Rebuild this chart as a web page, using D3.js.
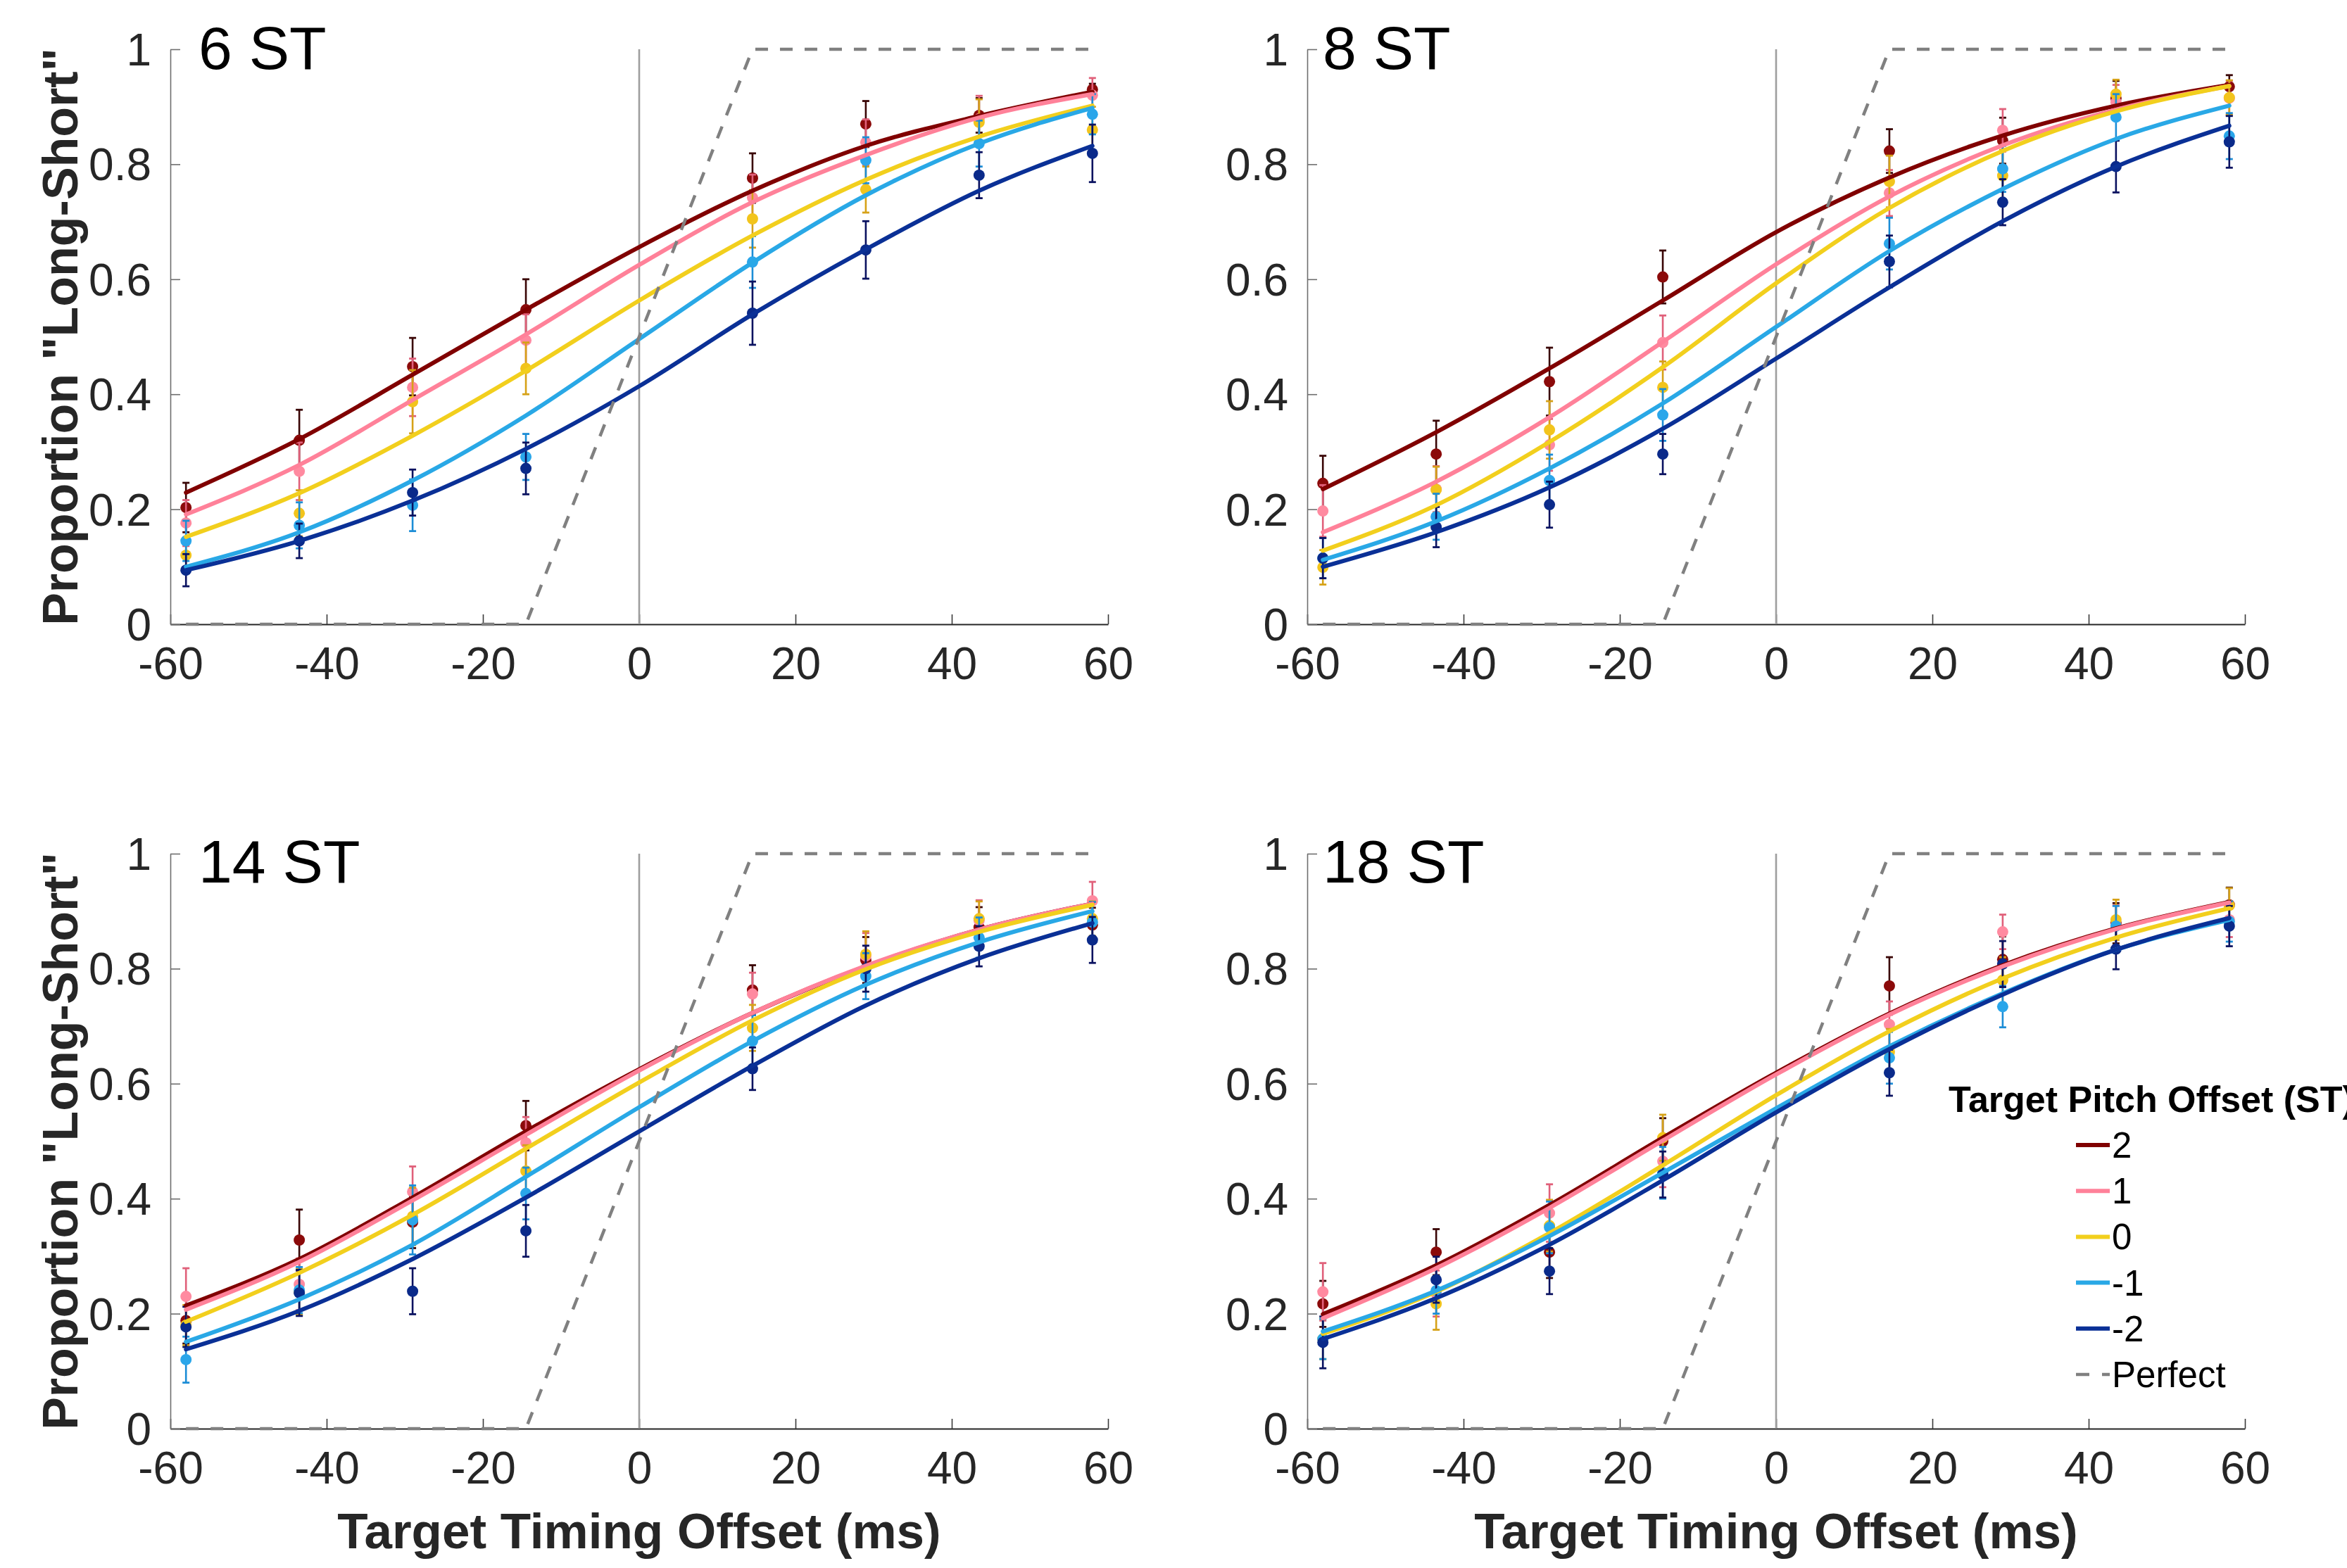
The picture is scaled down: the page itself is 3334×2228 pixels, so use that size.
<!DOCTYPE html>
<html>
<head>
<meta charset="utf-8">
<script src="https://cdn.jsdelivr.net/npm/d3@7"></script>
<style>
  html, body { margin: 0; padding: 0; background: #ffffff; }
  svg { display: block; }
  text { font-family: "Liberation Sans", Arial, Helvetica, sans-serif; }
</style>
</head>
<body>
<svg id="chart" width="3334" height="2228"></svg>
<script>
// ---- data ---------------------------------------------------------------
// target timing offsets (ms) at which responses were measured
const timingOffsets = [-58, -43.5, -29, -14.5, 14.5, 29, 43.5, 58];
// offsets at which the fitted psychometric curves are listed
const fitOffsets = [-58, -43.5, -29, -14.5, 0, 14.5, 29, 43.5, 58];
// target pitch offsets (ST), one series each
const pitchOffsets = ["2", "1", "0", "-1", "-2"];
const panelTitles = ["6 ST", "8 ST", "14 ST", "18 ST"];
const xTicks = [-60, -40, -20, 0, 20, 40, 60];
const yTicks = [0, 0.2, 0.4, 0.6, 0.8, 1];
// ideal observer reference line
const perfectX = [-58, -14.5, 14.5, 58];
const perfectY = [0, 0, 1, 1];

// 6 ST
const fit6ST = [
  [0.229, 0.322, 0.434, 0.547, 0.656, 0.754, 0.832, 0.884, 0.926],
  [0.191, 0.277, 0.390, 0.504, 0.625, 0.734, 0.816, 0.881, 0.922],
  [0.152, 0.228, 0.328, 0.441, 0.563, 0.676, 0.773, 0.848, 0.902],
  [0.100, 0.160, 0.250, 0.363, 0.496, 0.629, 0.746, 0.836, 0.898],
  [0.094, 0.145, 0.215, 0.305, 0.414, 0.539, 0.652, 0.754, 0.832]
];
const mean6ST = [
  [0.203, 0.320, 0.448, 0.547, 0.776, 0.870, 0.885, 0.930],
  [0.176, 0.266, 0.412, 0.494, 0.742, 0.838, 0.879, 0.920],
  [0.120, 0.193, 0.387, 0.445, 0.705, 0.756, 0.873, 0.860],
  [0.145, 0.172, 0.207, 0.291, 0.630, 0.807, 0.836, 0.887],
  [0.094, 0.145, 0.229, 0.271, 0.541, 0.651, 0.781, 0.819]
];
const sem6ST = [
  [0.043, 0.053, 0.050, 0.053, 0.043, 0.040, 0.030, 0.010],
  [0.040, 0.050, 0.050, 0.045, 0.040, 0.040, 0.040, 0.030],
  [0.030, 0.040, 0.055, 0.045, 0.050, 0.040, 0.040, 0.040],
  [0.035, 0.040, 0.045, 0.040, 0.045, 0.040, 0.040, 0.035],
  [0.028, 0.030, 0.040, 0.045, 0.055, 0.050, 0.040, 0.050]
];

// 8 ST
const fit8ST = [
  [0.235, 0.334, 0.445, 0.563, 0.682, 0.777, 0.850, 0.902, 0.938],
  [0.160, 0.248, 0.360, 0.491, 0.626, 0.744, 0.833, 0.895, 0.936],
  [0.128, 0.207, 0.317, 0.447, 0.593, 0.724, 0.823, 0.892, 0.936],
  [0.112, 0.179, 0.271, 0.384, 0.517, 0.649, 0.757, 0.844, 0.902],
  [0.100, 0.160, 0.238, 0.340, 0.462, 0.586, 0.701, 0.796, 0.867]
];
const mean8ST = [
  [0.245, 0.296, 0.422, 0.604, 0.823, 0.841, 0.915, 0.935],
  [0.197, 0.235, 0.312, 0.490, 0.750, 0.859, 0.908, 0.915],
  [0.099, 0.234, 0.338, 0.412, 0.770, 0.780, 0.922, 0.916],
  [0.115, 0.187, 0.250, 0.364, 0.662, 0.792, 0.882, 0.849],
  [0.115, 0.169, 0.208, 0.296, 0.631, 0.734, 0.796, 0.839]
];
const sem8ST = [
  [0.048, 0.058, 0.059, 0.046, 0.038, 0.040, 0.030, 0.020],
  [0.045, 0.040, 0.045, 0.047, 0.040, 0.037, 0.030, 0.030],
  [0.030, 0.040, 0.050, 0.045, 0.045, 0.045, 0.025, 0.030],
  [0.035, 0.040, 0.045, 0.045, 0.045, 0.040, 0.040, 0.040],
  [0.035, 0.035, 0.040, 0.035, 0.045, 0.040, 0.045, 0.045]
];

// 14 ST
const fit14ST = [
  [0.214, 0.295, 0.402, 0.517, 0.625, 0.723, 0.804, 0.868, 0.913],
  [0.207, 0.290, 0.397, 0.511, 0.623, 0.723, 0.805, 0.868, 0.913],
  [0.186, 0.271, 0.372, 0.487, 0.602, 0.710, 0.799, 0.864, 0.911],
  [0.151, 0.225, 0.320, 0.438, 0.559, 0.674, 0.772, 0.846, 0.900],
  [0.138, 0.205, 0.295, 0.402, 0.517, 0.631, 0.736, 0.818, 0.879]
];
const mean14ST = [
  [0.188, 0.328, 0.359, 0.527, 0.763, 0.815, 0.872, 0.876],
  [0.230, 0.251, 0.412, 0.497, 0.756, 0.822, 0.884, 0.918],
  [0.180, 0.238, 0.369, 0.448, 0.697, 0.825, 0.887, 0.887],
  [0.120, 0.241, 0.363, 0.409, 0.674, 0.787, 0.854, 0.881],
  [0.177, 0.236, 0.239, 0.344, 0.626, 0.800, 0.839, 0.850]
];
const sem14ST = [
  [0.040, 0.053, 0.045, 0.043, 0.043, 0.040, 0.035, 0.030],
  [0.049, 0.045, 0.044, 0.045, 0.037, 0.040, 0.035, 0.033],
  [0.035, 0.040, 0.050, 0.045, 0.040, 0.040, 0.030, 0.030],
  [0.040, 0.040, 0.060, 0.045, 0.045, 0.040, 0.035, 0.035],
  [0.035, 0.040, 0.040, 0.045, 0.037, 0.040, 0.035, 0.040]
];

// 18 ST
const fit18ST = [
  [0.199, 0.284, 0.389, 0.506, 0.619, 0.722, 0.806, 0.870, 0.916],
  [0.192, 0.279, 0.384, 0.501, 0.616, 0.720, 0.804, 0.869, 0.915],
  [0.165, 0.238, 0.340, 0.458, 0.580, 0.691, 0.783, 0.854, 0.905],
  [0.169, 0.240, 0.335, 0.445, 0.557, 0.665, 0.757, 0.833, 0.885],
  [0.156, 0.227, 0.320, 0.432, 0.550, 0.660, 0.755, 0.833, 0.888]
];
const mean18ST = [
  [0.217, 0.307, 0.307, 0.500, 0.770, 0.816, 0.879, 0.911],
  [0.238, 0.235, 0.375, 0.465, 0.703, 0.864, 0.875, 0.885],
  [0.156, 0.217, 0.353, 0.506, 0.655, 0.780, 0.885, 0.910],
  [0.156, 0.240, 0.350, 0.445, 0.645, 0.734, 0.874, 0.882],
  [0.150, 0.259, 0.274, 0.442, 0.619, 0.808, 0.834, 0.874]
];
const sem18ST = [
  [0.040, 0.040, 0.045, 0.040, 0.050, 0.040, 0.035, 0.030],
  [0.050, 0.040, 0.050, 0.045, 0.040, 0.030, 0.035, 0.030],
  [0.035, 0.045, 0.045, 0.040, 0.040, 0.040, 0.035, 0.030],
  [0.035, 0.040, 0.045, 0.045, 0.045, 0.036, 0.035, 0.035],
  [0.045, 0.040, 0.040, 0.040, 0.040, 0.040, 0.035, 0.035]
];

// ---- styling ------------------------------------------------------------
const curveColors  = ["#800000", "#ff8199", "#f2cf1d", "#29a8e6", "#0a3096"];
const markerColors = ["#8b0a0a", "#ff8aa0", "#f2c41c", "#2aa6ea", "#0a2a8a"];
const barColors    = ["#3a0606", "#e0607a", "#d6a218", "#1c8dd6", "#0a1260"];
const axisText = "#262626";

const svg = d3.select("#chart");
svg.append("rect").attr("width", 3334).attr("height", 2228).attr("fill", "#ffffff");

const plotW = 1332, plotH = 817;
const panels = [
  { title: panelTitles[0], fit: fit6ST,  mean: mean6ST,  sem: sem6ST,  left: 242,  top: 70,   tdx: 40, tdy: 28, ylab: true,  xlab: false },
  { title: panelTitles[1], fit: fit8ST,  mean: mean8ST,  sem: sem8ST,  left: 1857, top: 70,   tdx: 22, tdy: 28, ylab: false, xlab: false },
  { title: panelTitles[2], fit: fit14ST, mean: mean14ST, sem: sem14ST, left: 242,  top: 1213, tdx: 40, tdy: 41, ylab: true,  xlab: true },
  { title: panelTitles[3], fit: fit18ST, mean: mean18ST, sem: sem18ST, left: 1857, top: 1213, tdx: 22, tdy: 41, ylab: false, xlab: true }
];

const x = d3.scaleLinear().domain([-60, 60]).range([0, plotW]);
const y = d3.scaleLinear().domain([0, 1]).range([plotH, 0]);

const fitLine = d3.line()
  .x((d, i) => x(fitOffsets[i]))
  .y(d => y(d))
  .curve(d3.curveMonotoneX);

const perfectLine = d3.line()
  .x((d, i) => x(perfectX[i]))
  .y(d => y(d));

panels.forEach(p => {
  const g = svg.append("g").attr("transform", `translate(${p.left},${p.top})`);

  // x axis, ticks pointing into the plot
  const xAxis = g.append("g")
    .attr("transform", `translate(0,${plotH})`)
    .call(d3.axisBottom(x).tickValues(xTicks).tickSizeInner(-14).tickSizeOuter(0)
      .tickPadding(33).tickFormat(d => String(d)));
  xAxis.select(".domain").attr("stroke", "#262626").attr("stroke-width", 1.8);
  xAxis.selectAll(".tick line").attr("stroke", "#3a3a3a").attr("stroke-width", 1.6);
  xAxis.selectAll(".tick text")
    .attr("fill", axisText).attr("font-size", 64).attr("dy", "0.71em");

  // y axis
  const yAxis = g.append("g")
    .call(d3.axisLeft(y).tickValues(yTicks).tickSizeInner(-14).tickSizeOuter(0)
      .tickPadding(27).tickFormat(d => d3.format("~g")(d)));
  yAxis.select(".domain").attr("stroke", "#6e6e6e").attr("stroke-width", 1.6);
  yAxis.selectAll(".tick line").attr("stroke", "#6e6e6e").attr("stroke-width", 1.6);
  yAxis.selectAll(".tick text")
    .attr("fill", axisText).attr("font-size", 64).attr("dy", "0.35em");

  // zero timing reference
  g.append("line")
    .attr("x1", x(0)).attr("x2", x(0))
    .attr("y1", y(0)).attr("y2", y(1))
    .attr("stroke", "#9e9e9e").attr("stroke-width", 2.6);

  // error bars and mean markers
  p.mean.forEach((series, s) => {
    const sg = g.append("g");
    series.forEach((m, i) => {
      const cx = x(timingOffsets[i]);
      const lo = y(m - p.sem[s][i]), hi = y(m + p.sem[s][i]);
      sg.append("line").attr("x1", cx).attr("x2", cx).attr("y1", lo).attr("y2", hi)
        .attr("stroke", barColors[s]).attr("stroke-width", 2.6);
      [lo, hi].forEach(yy => sg.append("line")
        .attr("x1", cx - 5).attr("x2", cx + 5).attr("y1", yy).attr("y2", yy)
        .attr("stroke", barColors[s]).attr("stroke-width", 2.8));
      sg.append("circle").attr("cx", cx).attr("cy", y(m)).attr("r", 8)
        .attr("fill", markerColors[s]);
    });
  });

  // fitted psychometric curves
  p.fit.forEach((series, s) => {
    g.append("path")
      .attr("d", fitLine(series))
      .attr("fill", "none")
      .attr("stroke", curveColors[s])
      .attr("stroke-width", 6)
      .attr("stroke-linecap", "round");
  });

  // ideal observer
  g.append("path")
    .attr("d", perfectLine(perfectY))
    .attr("fill", "none")
    .attr("stroke", "#808080")
    .attr("stroke-width", 4.5)
    .attr("stroke-dasharray", "18,17");

  // panel title
  g.append("text")
    .attr("x", p.tdx).attr("y", p.tdy)
    .attr("font-size", 86)
    .attr("fill", "#000000")
    .text(p.title);

  if (p.ylab) {
    svg.append("text")
      .attr("transform", `translate(110,${p.top + plotH / 2}) rotate(-90)`)
      .attr("text-anchor", "middle")
      .attr("font-size", 70)
      .attr("font-weight", "bold")
      .attr("fill", axisText)
      .text('Proportion "Long-Short"');
  }
  if (p.xlab) {
    svg.append("text")
      .attr("x", p.left + plotW / 2).attr("y", 2200)
      .attr("text-anchor", "middle")
      .attr("font-size", 71)
      .attr("font-weight", "bold")
      .attr("fill", axisText)
      .text("Target Timing Offset (ms)");
  }
});

// ---- legend ---------------------------------------------------------------
const legend = svg.append("g");
legend.append("rect")
  .attr("x", 2752).attr("y", 1530).attr("width", 582).attr("height", 462)
  .attr("fill", "#ffffff");
legend.append("text")
  .attr("x", 2768).attr("y", 1580)
  .attr("font-size", 52).attr("font-weight", "bold").attr("fill", "#000000")
  .text("Target Pitch Offset (ST)");

const legendItems = pitchOffsets.map((label, i) => ({ label, color: curveColors[i], dash: null }))
  .concat([{ label: "Perfect", color: "#808080", dash: "19,18" }]);
legendItems.forEach((item, i) => {
  const cy = 1627 + i * 65.2;
  legend.append("line")
    .attr("x1", 2949).attr("x2", 2997).attr("y1", cy).attr("y2", cy)
    .attr("stroke", item.color)
    .attr("stroke-width", item.dash ? 4.5 : 6)
    .attr("stroke-dasharray", item.dash);
  legend.append("text")
    .attr("x", 3000).attr("y", cy + 18)
    .attr("font-size", 51).attr("fill", "#000000")
    .text(item.label);
});
</script>
</body>
</html>
